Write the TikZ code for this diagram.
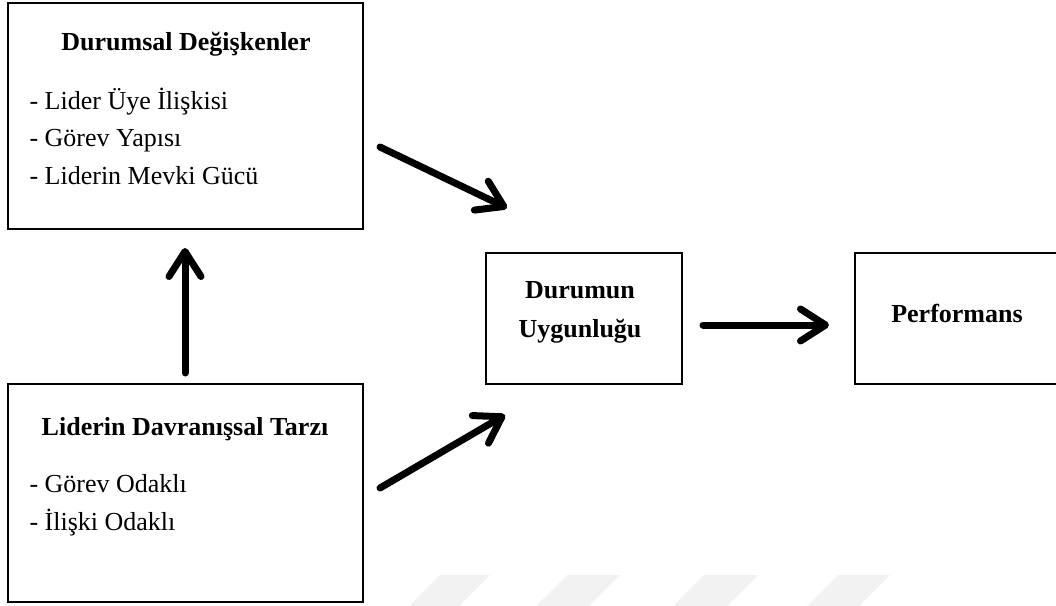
\documentclass[tikz,border=0pt]{standalone}
\usepackage{fontspec}
\setmainfont{Liberation Serif}
\usetikzlibrary{positioning, arrows.meta}

\begin{document}
\begin{tikzpicture}[x=1pt, y=-1pt, font=\fontsize{26}{31}\selectfont,
  kutu/.style={draw, line width=2pt, fill=white, inner sep=0pt},
  ok/.style={line width=7pt, line cap=round, -{Straight Barb[length=25pt, width=32pt, round]}},
  iz/.style={fill=black!5}]
\useasboundingbox (0,0) rectangle (1056,605);
% soluk zemin izleri
\fill[iz] (440,575) -- (490,575) -- (458,607) -- (408,607) -- cycle;
\fill[iz] (567,575) -- (620,575) -- (588,607) -- (535,607) -- cycle;
\fill[iz] (704,575) -- (758,575) -- (726,607) -- (672,607) -- cycle;
\fill[iz] (838,575) -- (890,575) -- (858,607) -- (806,607) -- cycle;
% kutular
\node[kutu, minimum width=355pt, minimum height=226pt] at (185.5,116) (durumsal) {};
\node[kutu, minimum width=355pt, minimum height=218pt] at (185.5,493) (davranis) {};
\node[kutu, minimum width=196pt, minimum height=131pt] at (584,318.5) (uygunluk) {};
\node[kutu, minimum width=207pt, minimum height=131pt] at (958.5,318.5) (performans) {};
% yazilar
\node[anchor=base] at (186,50) (baslik1) {\bfseries Durumsal Değişkenler};
\node[anchor=base west] at (26,109) (d1) {- Lider Üye İlişkisi};
\node[anchor=base west] at (26,146) (d2) {- Görev Yapısı};
\node[anchor=base west] at (26,184) (d3) {- Liderin Mevki Gücü};
\node[anchor=base] at (185,435) (baslik2) {\bfseries Liderin Davranışsal Tarzı};
\node[anchor=base west] at (26,492) (t1) {- Görev Odaklı};
\node[anchor=base west] at (26,530) (t2) {- İlişki Odaklı};
\node[anchor=base] at (580,298) (u1) {\bfseries Durumun};
\node[anchor=base] at (580,337) (u2) {\bfseries Uygunluğu};
\node[anchor=base] at (957,322) (p1) {\bfseries Performans};
% oklar
\coordinate (a) at (380,147);
\coordinate (aa) at (507,208);
\coordinate (b) at (185,373);
\coordinate (bb) at (185,248);
\coordinate (c) at (380,488);
\coordinate (cc) at (505,415);
\coordinate (d) at (703,325);
\coordinate (dd) at (829,325);
\draw (a) edge[ok] (aa);
\draw (b) edge[ok] (bb);
\draw (c) edge[ok] (cc);
\draw (d) edge[ok] (dd);
\end{tikzpicture}
\end{document}
